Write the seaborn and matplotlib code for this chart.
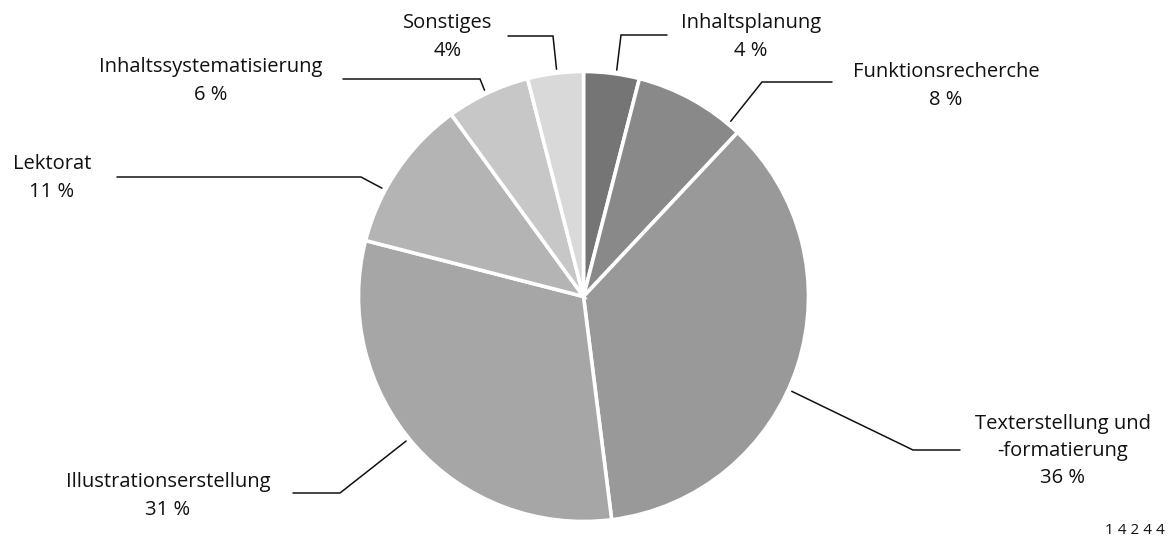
import numpy as np
import matplotlib
matplotlib.use("Agg")
import matplotlib.pyplot as plt
import seaborn as sns
from matplotlib import font_manager

# ---- data ----
categories = ["Inhaltsplanung", "Funktionsrecherche", "Texterstellung und\n-formatierung",
              "Illustrationserstellung", "Lektorat", "Inhaltssystematisierung", "Sonstiges"]
shares = [4, 8, 36, 31, 11, 6, 4]
pct_labels = ["4 %", "8 %", "36 %", "31 %", "11 %", "6 %", "4%"]
slice_colors = ["#757575", "#898989", "#999999", "#a6a6a6", "#b4b4b4", "#c7c7c7", "#d9d9d9"]
footer = "14244"

# ---- layout (pixel space, y measured from top) ----
W, H = 1175, 545
center_px = (583.5, 296.5)
radius_px = 225
anchor_frac = [0.58, 0.89, 0.55, 0.52, 0.35, 0.48, 0.53]
elbows = [(621, 35), (762, 82), (913, 450), (340, 493), (361, 177), (480, 79), (553, 36)]
line_ends = [(667, 35), (832, 82), (960, 450), (293, 493), (117, 177), (343, 79), (508, 36)]
text_pos = [(751, 37), (946, 86), (1063, 451), (168, 496), (52, 178), (211, 81), (448, 37)]

sns.set_theme(style="white")
avail = {f.name for f in font_manager.fontManager.ttflist}
fam = [f for f in ["Liberation Sans Narrow", "Open Sans", "DejaVu Sans"] if f in avail]
plt.rcParams["font.family"] = fam

fig = plt.figure(figsize=(W / 100, H / 100), dpi=100)
ax = fig.add_axes([0, 0, 1, 1])

def Y(y):
    return H - y

ax.pie(shares, colors=slice_colors, startangle=90, counterclock=False,
       center=(center_px[0], Y(center_px[1])), radius=radius_px,
       wedgeprops=dict(edgecolor="white", linewidth=2.6))
ax.set_xlim(0, W)
ax.set_ylim(0, H)
ax.set_aspect("equal")
ax.axis("off")

total = float(sum(shares))
start = 0.0
for i, v in enumerate(shares):
    span = v / total * 360.0
    ang = np.deg2rad(start + anchor_frac[i] * span)  # clockwise from top
    start += span
    r = radius_px * 1.017
    ax_x = center_px[0] + r * np.sin(ang)
    ax_y = Y(center_px[1]) + r * np.cos(ang)
    ex, ey = elbows[i]
    lx, ly = line_ends[i]
    ax.plot([ax_x, ex, lx], [ax_y, Y(ey), Y(ly)], color="#111111", lw=1.1,
            solid_joinstyle="miter", clip_on=False)
    tx, ty = text_pos[i]
    ax.text(tx, Y(ty), categories[i] + "\n" + pct_labels[i], ha="center", va="center",
            fontsize=14.5, color="#111111", linespacing=1.48)

ax.text(1165, Y(531), " ".join(footer), ha="right", va="center", fontsize=11, color="#111111")

fig.savefig("out.png", dpi=100)
